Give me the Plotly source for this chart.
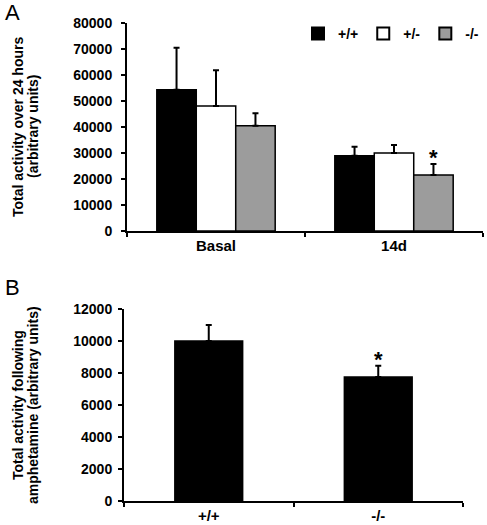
import plotly.graph_objects as go

# ---------------- data ----------------
groups_a = ["Basal", "14d"]
genotypes = ["+/+", "+/-", "-/-"]
means_wt = [54300, 28900]
means_het = [48100, 30000]
means_ko = [40500, 21500]
err_wt = [16200, 3500]
err_het = [13700, 3100]
err_ko = [4800, 4300]
ticks_a = [0, 10000, 20000, 30000, 40000, 50000, 60000, 70000, 80000]

groups_b = ["+/+", "-/-"]
means_b = [10000, 7750]
err_b = [1000, 700]
ticks_b = [0, 2000, 4000, 6000, 8000, 10000, 12000]

# ---------------- style ----------------
W, H = 487, 525
FONT = "Liberation Sans, Arial, sans-serif"
colors = ["#000000", "#ffffff", "#9c9c9c"]
BARGAP_A = 0.335

fig = go.Figure()
for name, m, e, c in zip(genotypes, [means_wt, means_het, means_ko],
                         [err_wt, err_het, err_ko], colors):
    fig.add_trace(go.Bar(
        x=groups_a, y=m, name=name, xaxis="x", yaxis="y",
        marker=dict(color=c, line=dict(color="black", width=1.5)),
        error_y=dict(type="data", symmetric=False, array=e,
                     arrayminus=[0] * len(e), color="black",
                     thickness=2, width=3),
    ))

fig.add_trace(go.Bar(
    x=groups_b, y=means_b, name="B", showlegend=False, xaxis="x2", yaxis="y2",
    width=0.4,
    marker=dict(color="black", line=dict(color="black", width=1.5)),
    error_y=dict(type="data", symmetric=False, array=err_b,
                 arrayminus=[0] * len(err_b), color="black",
                 thickness=2, width=3),
))

xa_dom = [127 / W, 483 / W]
ya_dom = [1 - 231 / H, 1 - 23 / H]
xb_dom = [124 / W, 463 / W]
yb_dom = [1 - 501 / H, 1 - 309 / H]

axis_common = dict(showline=True, linecolor="black", linewidth=2,
                   ticks="outside", ticklen=4, tickwidth=2, tickcolor="black",
                   showgrid=False, zeroline=False, automargin=False,
                   tickfont=dict(family=FONT, size=14, color="black", weight="bold"))
xfont = dict(family=FONT, size=15, color="black", weight="bold")

fig.update_layout(
    width=W, height=H,
    margin=dict(l=0, r=0, t=0, b=0),
    paper_bgcolor="white", plot_bgcolor="white",
    barmode="group", bargap=BARGAP_A, bargroupgap=0,
    showlegend=True,
    legend=dict(orientation="h", x=484 / W, xanchor="right",
                y=1 - 34 / H, yanchor="middle",
                font=dict(family=FONT, size=14, color="black", weight="bold"),
                bgcolor="rgba(0,0,0,0)", itemsizing="constant", tracegroupgap=0),
    xaxis=dict(domain=xa_dom, anchor="y", type="category", tickson="boundaries",
               range=[-0.5, 1.5], **{**axis_common, "tickfont": xfont}),
    yaxis=dict(domain=ya_dom, anchor="x", range=[0, 80000], tickvals=ticks_a,
               ticktext=[str(v) for v in ticks_a], ticklabelstandoff=6, **axis_common),
    xaxis2=dict(domain=xb_dom, anchor="y2", type="category", tickson="boundaries",
                range=[-0.5, 1.5], **{**axis_common, "tickfont": xfont}),
    yaxis2=dict(domain=yb_dom, anchor="x2", range=[0, 12000], tickvals=ticks_b,
                ticktext=[str(v) for v in ticks_b], ticklabelstandoff=3, **axis_common),
)

# significance stars
cat_px = (xa_dom[1] - xa_dom[0]) * W / len(groups_a)
bar_px = cat_px * (1 - BARGAP_A) / len(genotypes)
star_font = dict(family=FONT, size=22, color="black", weight="bold")
fig.add_annotation(x="14d", y=means_ko[1] + err_ko[1], xref="x", yref="y",
                   text="*", showarrow=False, xshift=bar_px, yshift=-8,
                   yanchor="bottom", font=star_font)
fig.add_annotation(x="-/-", y=means_b[1] + err_b[1], xref="x2", yref="y2",
                   text="*", showarrow=False, yshift=-8,
                   yanchor="bottom", font=star_font)

# y-axis titles (two lines each)
title_font = dict(family=FONT, size=14, color="black", weight="bold")
for txt, xp, yp in [("Total activity over 24 hours", 18, 127),
                    ("(arbitrary units)", 33, 127),
                    ("Total activity following", 18, 405),
                    ("amphetamine (arbitrary units)", 33, 405)]:
    fig.add_annotation(text=txt, x=xp / W, y=1 - yp / H, xref="paper", yref="paper",
                       textangle=-90, showarrow=False, xanchor="center",
                       yanchor="middle", font=title_font)

# panel letters
for txt, yp in [("A", 12), ("B", 287)]:
    fig.add_annotation(text=txt, x=12 / W, y=1 - yp / H, xref="paper", yref="paper",
                       showarrow=False, xanchor="center", yanchor="middle",
                       font=dict(family=FONT, size=22, color="black"))

fig.write_html("out.html", config={"displayModeBar": False},
               post_script="document.body.style.margin='0';document.body.style.overflow='hidden';")
